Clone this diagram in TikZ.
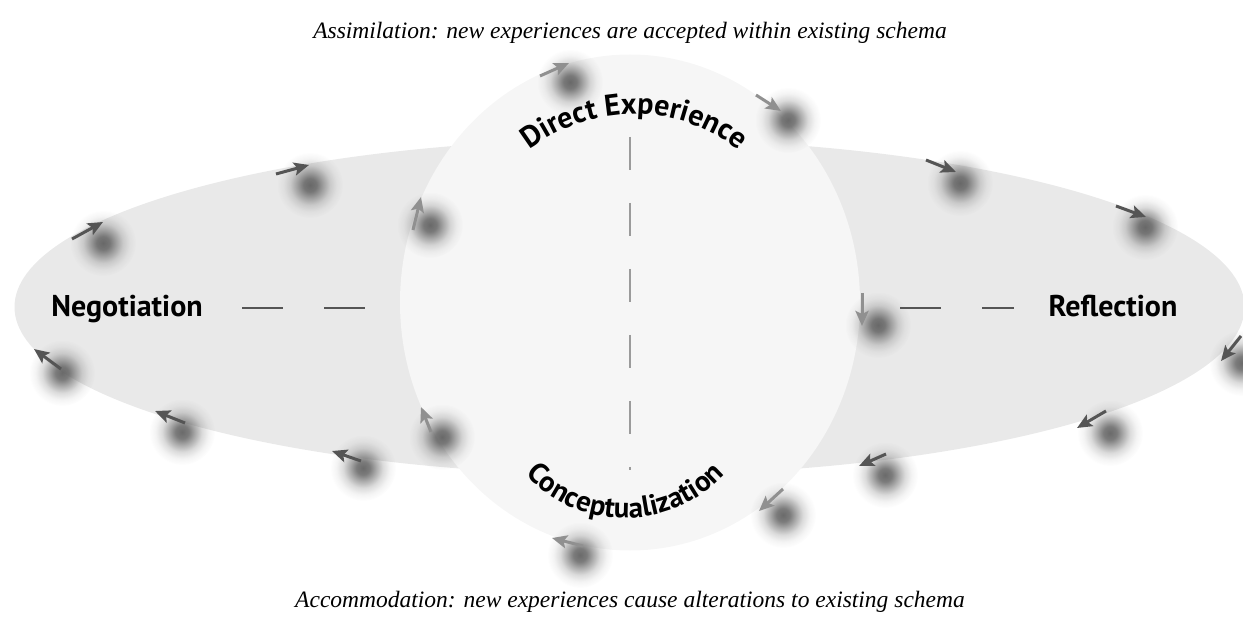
\documentclass[tikz,border=0pt]{standalone}
\usepackage{fontspec}
\setmainfont{Liberation Serif}
\newfontfamily\labelsans{PT Sans}
\usetikzlibrary{arrows.meta,decorations.text,fadings}

\definecolor{ellipsefill}{HTML}{E9E9E9}
\definecolor{circlefill}{HTML}{F6F6F6}
\definecolor{darkarrow}{HTML}{555555}
\definecolor{lightarrow}{HTML}{909090}
\definecolor{dotcore}{HTML}{5A5A5A}
\definecolor{vdashgray}{HTML}{9B9B9B}

% soft, blurred blob used under every arrow
\pgfdeclareradialshading{fuzzyshade}{\pgfpointorigin}{%
  color(0bp)=(white!90!black); color(5bp)=(white!80!black);
  color(10bp)=(white!50!black); color(15bp)=(white!22!black);
  color(20bp)=(white!7!black); color(25bp)=(black); color(50bp)=(black)}
\pgfdeclarefading{fuzzydot}{\pgfuseshading{fuzzyshade}}

\newcommand{\arcfont}{\labelsans\bfseries\fontsize{30}{32}\selectfont}
\newcommand{\lowarcfont}{\labelsans\bfseries\fontsize{29}{31}\selectfont}

\tikzset{
  caption/.style={font=\itshape\fontsize{23.5}{26}\selectfont, anchor=base, inner sep=0pt},
  sidelabel/.style={font=\labelsans\bfseries\fontsize{30}{32}\selectfont, anchor=base, inner sep=0pt},
  hdash/.style={draw=darkarrow, line width=2.5pt, dash pattern=on 41pt off 41pt},
  vdash/.style={draw=vdashgray, line width=2.5pt, dash pattern=on 33pt off 33pt},
  blob/.style={fill=dotcore, path fading=fuzzydot},
  flowarrow/.style={line width=3pt, -{Stealth[length=15pt,width=13pt,inset=3pt]}},
  darkflow/.style={flowarrow, draw=darkarrow},
  lightflow/.style={flowarrow, draw=lightarrow},
}

% blob at #1, arrow from #2 to #3 in style #4
\newcommand{\blobarrow}[4]{%
  \fill[blob] (#1) circle (33pt);
  \draw[#4] (#2) -- (#3);
}

\begin{document}
\begin{tikzpicture}[x=1pt,y=1pt]
\useasboundingbox (0,0) rectangle (1243,-617);

% the two fields
\fill[ellipsefill] (629.5,-307) ellipse [x radius=615pt, y radius=168pt];
\fill[circlefill] (630,-302.5) ellipse [x radius=230pt, y radius=248pt];

% captions
\node[caption] (assim) at (630,-39) {Assimilation: new experiences are accepted within existing schema};
\node[caption] (accom) at (630,-607) {Accommodation: new experiences cause alterations to existing schema};

% side labels
\node[sidelabel] (neg) at (127,-317) {Negotiation};
\node[sidelabel] (refl) at (1113,-317) {Reflection};

% axes
\coordinate (negR) at (242,-308);
\coordinate (circL) at (366,-308);
\coordinate (circR) at (900,-308);
\coordinate (reflL) at (1014,-308);
\coordinate (axTop) at (630,-137);
\coordinate (axBot) at (630,-470);
\draw[hdash] (negR) -- (circL);
\draw[hdash] (circR) -- (reflL);
\draw[vdash] (axTop) -- (axBot);

% curved labels
\path[decorate, decoration={text along path, text align=center,
      text={|\arcfont|Direct Experience}}]
  (634,-284) ++(142:170pt) arc[start angle=142, end angle=38, radius=170pt];
\path[decorate, decoration={text along path, text align=center,
      text={|\lowarcfont|Conceptualization}}]
  (625,-382) ++(212:136pt) arc[start angle=212, end angle=328, radius=136pt];

% circulating blobs with arrows
\blobarrow{570,-82}{540,-76}{569,-63}{lightflow}
\blobarrow{788,-120}{756,-95}{781,-111}{lightflow}
\blobarrow{310,-185}{276,-174}{309,-165}{darkflow}
\blobarrow{103,-243}{72,-239}{103,-222}{darkflow}
\blobarrow{430,-225}{413,-230}{421,-197}{lightflow}
\blobarrow{62,-373}{61,-369}{34,-349}{darkflow}
\blobarrow{182,-432}{185,-423}{155,-411}{darkflow}
\blobarrow{363,-468}{361,-461}{332,-451}{darkflow}
\blobarrow{442,-437}{431,-432}{421,-407}{lightflow}
\blobarrow{960,-183}{926,-160}{956,-172}{darkflow}
\blobarrow{1145,-227}{1116,-206}{1146,-217}{darkflow}
\blobarrow{1242,-363}{1241,-336}{1221,-361}{darkflow}
\blobarrow{1110,-433}{1106,-411}{1077,-428}{darkflow}
\blobarrow{885,-475}{886,-454}{859,-466}{darkflow}
\blobarrow{783,-515}{783,-489}{759,-511}{lightflow}
\blobarrow{580,-555}{583,-546}{552,-538}{lightflow}
\blobarrow{878,-325}{862,-293}{862,-326}{lightflow}
\end{tikzpicture}
\end{document}
